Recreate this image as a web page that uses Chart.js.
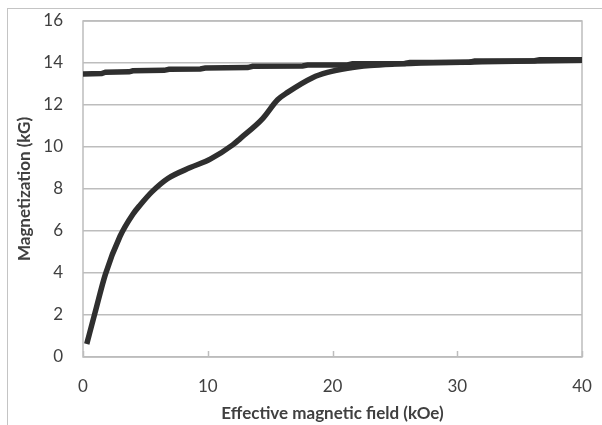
<!DOCTYPE html>
<html>
<head>
<meta charset="utf-8">
<script src="https://cdn.jsdelivr.net/npm/chart.js@4.4.1/dist/chart.umd.min.js"></script>
<style>
  html, body { margin: 0; padding: 0; background: #fff; }
  #wrap { position: relative; width: 602px; height: 425px; overflow: hidden; }
  #frame { position: absolute; left: 7px; top: 8px; right: -10px; bottom: -10px;
           border-top: 1.5px solid #c4c4c4; border-left: 1.5px solid #c4c4c4; }
  canvas { position: absolute; left: 0; top: 0; }
</style>
</head>
<body>
<div id="wrap">
  <div id="frame"></div>
  <canvas id="c" width="602" height="425"></canvas>
</div>
<script>
// Initial magnetization curve (virgin curve)
const initialField = [0.3, 0.96, 1.8, 2.97, 4.0, 4.6, 5.5, 6.8, 8.6, 10.2, 12.0, 12.6, 14.4, 15.6, 16.4, 18.4, 19.6, 21.2, 23.0, 25.0, 28.0, 32.0, 36.0, 40.0];
const initialMag   = [0.62, 2.1, 3.95, 5.75, 6.8, 7.25, 7.85, 8.5, 9.02, 9.42, 10.1, 10.4, 11.35, 12.25, 12.6, 13.3, 13.55, 13.75, 13.88, 13.95, 14.01, 14.06, 14.1, 14.13];

// Return branch from saturation
const returnField = [0, 1.5, 1.8, 3.7, 4.0, 6.5, 6.9, 9.4, 9.8, 13.2, 13.6, 17.6, 18.0, 21.2, 21.6, 25.8, 26.2, 31.0, 31.4, 36.2, 36.6, 40];
const returnMag   = [13.48, 13.5, 13.56, 13.58, 13.63, 13.65, 13.7, 13.72, 13.76, 13.78, 13.84, 13.86, 13.9, 13.91, 13.96, 13.98, 14.02, 14.04, 14.09, 14.11, 14.15, 14.15];

const xTicks = [0, 10, 20, 30, 40];
const yTicks = [0, 2, 4, 6, 8, 10, 12, 14, 16];

const toPoints = (xs, ys) => xs.map((x, i) => ({ x: x, y: ys[i] }));

const lineColor = '#2f2f2f';
const gridColor = '#bdbdbd';
const textColor = '#404040';
const fontFamily = 'Lato, "Open Sans", sans-serif';

// Frame around the plotting area, with inward ticks on the field axis
const plotFrame = {
  id: 'plotFrame',
  beforeDatasetsDraw(chart) {
    const a = chart.chartArea, ctx = chart.ctx;
    ctx.save();
    ctx.strokeStyle = gridColor;
    ctx.lineWidth = 1.5;
    ctx.strokeRect(a.left, a.top, a.right - a.left, a.bottom - a.top);
    const xs = chart.scales.x;
    xTicks.forEach(v => {
      const px = Math.round(xs.getPixelForValue(v)) + 0.5;
      ctx.beginPath();
      ctx.moveTo(px, a.bottom);
      ctx.lineTo(px, a.bottom - 6);
      ctx.stroke();
    });
    ctx.restore();
  }
};

new Chart(document.getElementById('c'), {
  type: 'line',
  data: {
    datasets: [
      {
        data: toPoints(returnField, returnMag),
        borderColor: lineColor,
        borderWidth: 5.5,
        pointRadius: 0,
        tension: 0,
        fill: false
      },
      {
        data: toPoints(initialField, initialMag),
        borderColor: lineColor,
        borderWidth: 5.5,
        pointRadius: 0,
        cubicInterpolationMode: 'monotone',
        fill: false
      }
    ]
  },
  options: {
    responsive: false,
    animation: false,
    devicePixelRatio: 1,
    layout: { padding: { top: 21, right: 20, left: 0, bottom: 0 } },
    plugins: { legend: { display: false }, tooltip: { enabled: false } },
    scales: {
      x: {
        type: 'linear',
        min: 0, max: 40,
        afterBuildTicks: s => { s.ticks = xTicks.map(v => ({ value: v })); },
        afterFit: s => { s.height = 68; s.paddingLeft = 0; s.paddingRight = 0; },
        grid: { display: false },
        border: { display: false },
        ticks: { color: textColor, padding: 11, font: { family: fontFamily, size: 17 } },
        title: {
          display: true,
          text: 'Effective magnetic field (kOe)',
          color: textColor,
          font: { family: fontFamily, size: 17, weight: 'bold' },
          padding: { top: 0, bottom: 1 }
        }
      },
      y: {
        min: 0, max: 16,
        afterBuildTicks: s => { s.ticks = yTicks.map(v => ({ value: v })); },
        afterFit: s => { s.width = 83; s.paddingTop = 0; s.paddingBottom = 0; },
        grid: { color: gridColor, lineWidth: 1.5, drawTicks: false },
        border: { display: false },
        ticks: { color: textColor, padding: 20, font: { family: fontFamily, size: 17 } },
        title: {
          display: true,
          text: 'Magnetization (kG)',
          color: textColor,
          font: { family: fontFamily, size: 17, weight: 'bold' },
          padding: { top: 14, bottom: 0 }
        }
      }
    }
  },
  plugins: [plotFrame]
});
</script>
</body>
</html>
